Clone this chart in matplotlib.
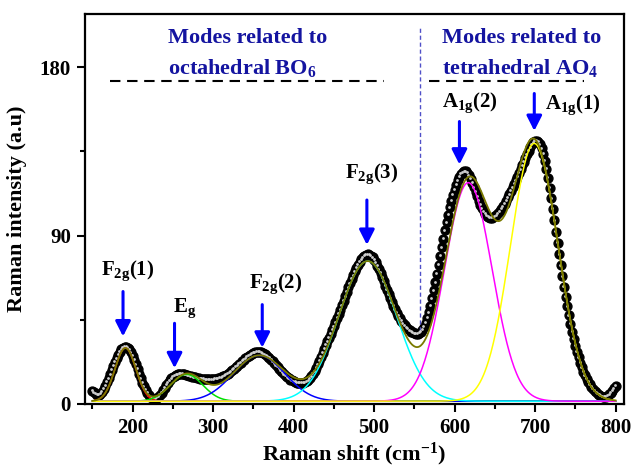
import numpy as np
import matplotlib
matplotlib.use("Agg")
import matplotlib.pyplot as plt
import matplotlib.transforms as mtransforms

# Fonts: bold serif everywhere, including subscripts in mathtext
plt.rcParams["font.family"] = ["Liberation Serif", "DejaVu Serif"]
plt.rcParams["font.weight"] = "bold"
plt.rcParams["mathtext.fontset"] = "custom"
plt.rcParams["mathtext.rm"] = "Liberation Serif:bold"
plt.rcParams["mathtext.bf"] = "Liberation Serif:bold"
plt.rcParams["mathtext.it"] = "Liberation Serif:bold"
plt.rcParams["mathtext.default"] = "bf"

# Measured spectrum (every 2 cm-1 from 150 to 800)
shift = np.arange(150, 802, 2)
intensity = [
    7.0, 6.0, 5.2, 4.8, 4.8, 5.3, 6.3, 7.8, 9.6, 11.6,
    13.6, 15.8, 18.0, 20.2, 22.3, 24.3, 26.1, 27.7, 29.0, 30.0,
    30.5, 30.5, 30.0, 29.0, 27.5, 25.7, 23.5, 21.1, 18.6, 16.1,
    13.6, 11.3, 9.2, 7.3, 5.7, 4.4, 3.4, 2.8, 2.5, 2.6,
    3.0, 3.7, 4.7, 5.9, 7.2, 8.6, 10.0, 11.3, 12.5, 13.5,
    14.3, 15.0, 15.5, 15.8, 16.0, 16.0, 15.9, 15.7, 15.5, 15.2,
    15.0, 14.7, 14.5, 14.2, 14.0, 13.8, 13.6, 13.4, 13.3, 13.2,
    13.1, 13.0, 13.0, 13.0, 13.0, 13.1, 13.2, 13.4, 13.6, 13.9,
    14.2, 14.6, 15.0, 15.5, 16.0, 16.6, 17.3, 18.0, 18.8, 19.6,
    20.4, 21.2, 22.0, 22.8, 23.6, 24.3, 25.0, 25.6, 26.2, 26.7,
    27.1, 27.4, 27.6, 27.7, 27.6, 27.4, 27.0, 26.5, 25.9, 25.2,
    24.4, 23.5, 22.6, 21.6, 20.6, 19.6, 18.6, 17.6, 16.7, 15.8,
    15.0, 14.2, 13.5, 12.9, 12.4, 12.0, 11.6, 11.3, 11.1, 11.0,
    11.0, 11.1, 11.4, 11.9, 12.6, 13.5, 14.6, 15.9, 17.4, 19.1,
    21.0, 23.0, 25.1, 27.2, 29.3, 31.4, 33.4, 35.4, 37.4, 39.4,
    41.5, 43.6, 45.8, 48.0, 50.3, 52.6, 55.0, 57.4, 59.8, 62.2,
    64.5, 66.7, 68.8, 70.8, 72.7, 74.4, 76.0, 77.3, 78.4, 79.2,
    79.7, 79.9, 79.7, 79.2, 78.3, 77.1, 75.6, 73.9, 72.0, 69.9,
    67.7, 65.4, 63.1, 60.8, 58.6, 56.4, 54.3, 52.3, 50.4, 48.7,
    47.1, 45.6, 44.3, 43.0, 41.9, 40.9, 40.0, 39.2, 38.6, 38.1,
    37.7, 37.5, 37.5, 37.8, 38.5, 39.6, 41.2, 43.3, 45.9, 49.0,
    52.5, 56.4, 60.6, 65.0, 69.6, 74.3, 79.0, 83.7, 88.3, 92.8,
    97.1, 101.2, 105.0, 108.5, 111.7, 114.6, 117.2, 119.5, 121.4, 122.9,
    123.9, 124.4, 124.3, 123.6, 122.3, 120.5, 118.3, 115.9, 113.4, 110.9,
    108.6, 106.5, 104.6, 103.0, 101.7, 100.7, 100.0, 99.6, 99.5, 99.7,
    100.2, 100.9, 101.8, 102.9, 104.2, 105.6, 107.1, 108.7, 110.4, 112.1,
    113.9, 115.7, 117.6, 119.5, 121.5, 123.5, 125.5, 127.5, 129.5, 131.5,
    133.5, 135.4, 137.2, 138.8, 140.0, 140.7, 140.8, 140.2, 138.8, 136.6,
    133.6, 129.9, 125.6, 120.8, 115.6, 110.0, 104.2, 98.2, 92.1, 86.0,
    80.0, 74.0, 68.2, 62.6, 57.2, 52.1, 47.3, 42.8, 38.6, 34.7,
    31.1, 27.8, 24.8, 22.0, 19.5, 17.2, 15.2, 13.4, 11.8, 10.3,
    9.0, 7.9, 6.9, 6.0, 5.2, 4.6, 4.1, 3.8, 3.7, 3.8,
    4.2, 4.9, 5.8, 6.9, 8.2, 9.6,
]

# Gaussian fit components: F2g(1), Eg, F2g(2), F2g(3), A1g(2), A1g(1)
peak_centers = [191, 267, 357, 492, 617, 699]
peak_heights = [28.5, 14.4, 24.5, 75.0, 117.0, 138.0]
peak_sigmas = [13, 20, 32, 36, 29.5, 29.5]
peak_colors = ["red", "#00e000", "blue", "cyan", "magenta", "yellow"]
fit_baseline = 1.3

# Mode labels and arrows (x, label y, arrow top, arrow tip)
mode_labels = [r"F$_{2g}$(1)", r"E$_g$", r"F$_{2g}$(2)", r"F$_{2g}$(3)",
               r"A$_{1g}$(2)", r"A$_{1g}$(1)"]
label_x = [194, 264, 378, 497, 619, 747]
label_y = [71, 51, 64, 123, 161, 160]
arrow_x = [188, 252, 361, 491, 606, 699]
arrow_top = [60, 43, 53, 109, 151, 166]
arrow_tip = [36, 19, 30, 85, 128, 146]

fig = plt.figure(figsize=(6.34, 4.71), dpi=100)
ax = fig.add_subplot(111)
fig.subplots_adjust(left=0.134, right=0.984, top=0.970, bottom=0.143)

# Experimental points: black balls with a light highlight
ax.plot(shift, intensity, "o", color="black", markersize=6.4, zorder=2)
highlight = mtransforms.offset_copy(ax.transData, fig=fig, x=-0.6, y=0.6, units="dots")
ax.plot(shift, intensity, "o", color="#cfcfcf", markersize=2.0,
        markeredgewidth=0, transform=highlight, zorder=3)

# Fitted components and their sum
x_fit = np.linspace(150, 800, 651)
total = np.full_like(x_fit, fit_baseline)
for c, h, s, col in zip(peak_centers, peak_heights, peak_sigmas, peak_colors):
    g = h * np.exp(-(x_fit - c) ** 2 / (2 * s ** 2))
    total += g
    ax.plot(x_fit, g + fit_baseline, color=col, lw=1.1, zorder=4)
ax.plot(x_fit, total, color="#7a7a00", lw=1.3, zorder=5)

# Arrows and labels for each Raman mode
for lab, lx, ly, ax_, top, tip in zip(mode_labels, label_x, label_y,
                                       arrow_x, arrow_top, arrow_tip):
    ax.annotate("", xy=(ax_, tip), xytext=(ax_, top),
                arrowprops=dict(arrowstyle="-|>,head_length=0.75,head_width=0.38",
                                color="blue", lw=2.2, mutation_scale=12,
                                shrinkA=0, shrinkB=0), zorder=6)
    ax.text(lx, ly, lab, fontsize=15, ha="center", va="center", zorder=6)

# Group headers with dashed underline
navy = "#1414a0"
ax.text(244, 195.7, "Modes related to", color=navy, fontsize=16, va="center")
ax.text(244, 179.6, r"octahedral BO$_6$", color=navy, fontsize=16, va="center")
ax.text(584, 195.7, "Modes related to", color=navy, fontsize=16, va="center")
ax.text(584, 179.6, r"tetrahedral AO$_4$", color=navy, fontsize=16, va="center")
ax.plot([172, 512], [172.8, 172.8], color="black", lw=1.5, dashes=(5, 3.2))
ax.plot([568, 761], [172.8, 172.8], color="black", lw=1.5, dashes=(5, 3.2))
ax.plot([557, 557], [39, 201], color="#5050c8", lw=1.0, dashes=(3, 2))

# Axes formatting
ax.set_xlim(140.7, 810.3)
ax.set_ylim(0, 208.5)
ax.set_xticks([200, 300, 400, 500, 600, 700, 800])
ax.set_xticks(np.arange(150, 800, 100), minor=True)
ax.set_yticks([0, 90, 180])
ax.set_yticks([45, 135], minor=True)
ax.tick_params(axis="both", which="major", direction="out", length=6, width=1.5,
               labelsize=15, pad=4)
ax.tick_params(axis="both", which="minor", direction="out", length=3.5, width=1.5)
for sp in ax.spines.values():
    sp.set_linewidth(1.6)
ax.set_xlabel(r"Raman shift (cm$^{-1}$)", fontsize=16, fontweight="bold", labelpad=2)
ax.set_ylabel("Raman intensity (a.u)", fontsize=16, fontweight="bold", labelpad=9)

fig.savefig("out.png", dpi=100)
